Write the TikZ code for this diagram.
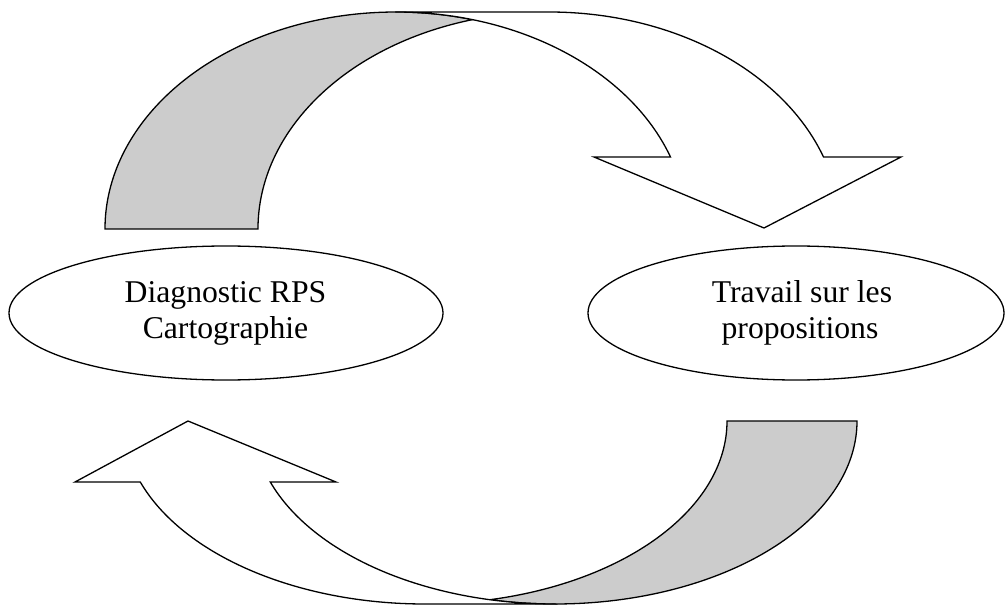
\documentclass[tikz,border=0pt]{standalone}
\usepackage{fontspec}
\setmainfont{Liberation Serif}
\usetikzlibrary{shapes.geometric}
\definecolor{backgrey}{RGB}{204,204,204}
\tikzset{
  ribbon/.style={draw=black, line width=1.3pt, line join=miter},
  backpart/.style={ribbon, fill=backgrey},
  frontpart/.style={ribbon, fill=white},
  ellipsebox/.style={draw=black, line width=1.3pt, ellipse, inner sep=0pt, fill=white},
  txt/.style={font=\fontsize{31.7}{36.5}\selectfont, inner sep=0pt, anchor=base},
}
\begin{document}
\begin{tikzpicture}[x=1pt, y=1pt]
\useasboundingbox (0,0) rectangle (1006,606);
% ---- top curved arrow (back, grey) ----
\draw[backpart] (105,377)
  arc[start angle=180, end angle=74.76, x radius=291pt, y radius=217pt]
  arc[start angle=105.24, end angle=180, x radius=291pt, y radius=217pt]
  -- cycle;
% ---- top curved arrow (front, white) ----
\coordinate (t1) at (396,594);
\coordinate (t2) at (549,594);
\coordinate (tb1) at (901,449);
\coordinate (ttip) at (764,378);
\coordinate (tb2) at (594,449);
\coordinate (tb3) at (670.5,449);
\draw[frontpart] (t1) -- (t2)
  arc[start angle=90, end angle=19.38, x radius=291pt, y radius=217pt]
  -- (tb1) -- (ttip) -- (tb2) -- (tb3)
  arc[start angle=19.38, end angle=90, x radius=291pt, y radius=217pt]
  -- cycle;
% ---- bottom curved arrow (back, grey) ----
\draw[backpart] (857,185)
  arc[start angle=360, end angle=257.57, x radius=302pt, y radius=183pt]
  arc[start angle=282.43, end angle=360, x radius=302pt, y radius=183pt]
  -- cycle;
% ---- bottom curved arrow (front, white) ----
\coordinate (b1) at (555,2);
\coordinate (b2) at (425,2);
\coordinate (bb1) at (75,124);
\coordinate (btip) at (188,185);
\coordinate (bb2) at (336,124);
\coordinate (bb3) at (270.3,124);
\draw[frontpart] (b1) -- (b2)
  arc[start angle=270, end angle=199.47, x radius=302pt, y radius=183pt]
  -- (bb1) -- (btip) -- (bb2) -- (bb3)
  arc[start angle=199.47, end angle=270, x radius=302pt, y radius=183pt]
  -- cycle;
% ---- ellipses ----
\node[ellipsebox, minimum width=434pt, minimum height=134pt] (diag) at (226,293) {};
\node[ellipsebox, minimum width=416pt, minimum height=134pt] (trav) at (796,293) {};
\node[txt] (diagA) at (225.5,304) {Diagnostic RPS};
\node[txt] (diagB) at (225.5,267.5) {Cartographie};
\node[txt] (travA) at (802,304) {Travail sur les};
\node[txt] (travB) at (800,267.5) {propositions};
\end{tikzpicture}
\end{document}
